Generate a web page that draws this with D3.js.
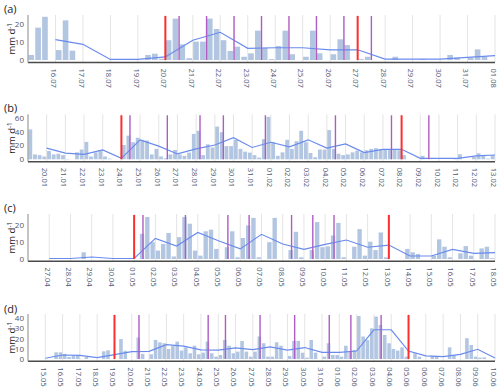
<!DOCTYPE html>
<html><head><meta charset="utf-8">
<script src="https://cdn.jsdelivr.net/npm/d3@7"></script>
<style>body{margin:0;background:#fff}svg{display:block}text{font-family:"Open Sans",sans-serif}</style>
</head><body><svg id="c" width="500" height="390"></svg>
<script>
// ---------------- data ----------------
const panelLabels = ["(a)", "(b)", "(c)", "(d)"];
const rainStart = ["2021-07-15", "2021-01-19", "2021-04-26", "2021-05-14"];
const axisEnd   = ["2021-08-01", "2021-02-13", "2021-05-18", "2021-06-10"];
const lineStart = ["2021-07-16", "2021-01-20", "2021-04-27", "2021-05-15"];
const yTicksA = [0, 10, 20];
const yTicksB = [0, 20, 40, 60];
const yTicksC = [0, 10, 20];
const yTicksD = [0, 10, 20, 30, 40];

// 6-hourly precipitation (mm d-1), four values per day
const rainA = [2.8,18,24,0, 5.5,22,5.2,0, 0,0,0,0, 0,0,0,0, 0,2.8,3.5,0.7,
  11,23,8.7,1, 10.2,10.2,23,17.2, 11,5,7.4,1.8, 3.7,16.3,6.8,0.5, 7.8,16.3,3.2,0,
  1.8,16.3,3.7,0, 3.2,11.5,8.3,0, 0.5,1.8,0,0, 0,1.8,0,0, 0,0.5,0,0, 0,2.8,1.3,0, 1.3,5.9,1.8,0];
const rainB = [43,7,6,4, 12,7,8,6, 0.5,0,10,14, 25,4,10,13, 4,1,0,0,
  20.6,34,24.5,31, 28,27,7,15, 4,1.5,7,13.4, 7,5,9.6,36.5, 41,6,21.6,17,
  47,39,19,19, 28,15,11,9.6, 6,2.4,29,61, 25,5,10,28, 15,26,41,24.5,
  9,3,14,14, 42,15,8,6, 7,10,12.5,10, 13,15,16,14.5, 14.5,14.5,14,13,
  6,0,0,0, 5,0,0,0, 0,0,0,1.5, 7.2,0,0,3.4, 8.6,5.8,1,5.8];
const rainC = [0,0,0,0, 0,0,0,0, 0,0,4,0, 0,0,0,0, 0,0,0,0,
  0,15,25,10, 5,9,15.5,1.5, 13,25,21,5, 2,16.5,17.5,6, 0,7,16.5,1,
  12.5,20,24.5,1, 0,10,24.5,0, 0,5.3,16.2,1, 0,5.3,22,7, 7.5,14,21.5,1,
  0,7.3,17.8,2, 10.3,5.3,15.8,1, 0,0,0,6, 4,3,0,0, 2,11.7,7.3,1, 0,3.4,7.7,2, 0,6.3,7.3,0.5];
const rainD = [0,0,0,0, 0,0,6.5,6.5, 5,2,3.5,3.5, 0,2,0,0, 0,7.5,8.5,0,
  0,19.5,8,0, 0,21,5,0, 4.6,18.6,16.3,15.4, 9.8,12.7,17,8.2, 11.4,5.6,13,4.6,
  6.2,17,5.6,2.3, 3.9,18.6,13,5.6, 7.2,17.6,7.2,2.3, 7.2,22,15.4,2.3, 2.3,16.3,13,0,
  3,17.7,17.7,6.2, 1.3,18.6,6.2,0, 2.3,15.4,3.9,3.9, 2.3,13,7.2,8.8, 42,22,18.6,30,
  41.5,33.3,23.5,15.4, 9.8,8.2,11.4,2.3, 0,5.6,2.3,0, 0,3,3,0, 0,11.4,3.9,0,
  0,20.3,13.7,2.3, 1.3,1.6,0,0];

// daily mean (blue line), one value per day from lineStart
const meanA = [11.3,8.7,0.3,0.3,1.7,11,15.4,6.5,6.8,6.8,5.6,5.7,0.5,0.5,0.5,1.5,2.4];
const meanB = [16,9,7.2,13.4,1.4,28,19,7.7,15,20.6,31,17,24.5,18,28,16,22,9.6,14.4,14.4,1.4,1.4,1.4,4.8,6.2];
const meanC = [0.3,0.3,1.2,0.3,0.3,12.3,7.7,15.8,10.7,6,14.7,8.9,5.7,8.7,11.3,7,8.3,1.8,1.8,5.7,3.4,3.8];
const meanD = [0.7,3.9,3.6,1.3,4.3,7.2,7.5,14,12.5,9,8.7,10.8,9.2,11.8,8.7,11.2,6.5,6.5,7.8,28.6,28.6,7.8,3,2.4,4.6,9.5,1];

// event markers
const redA = ["2021-07-20T00:00Z", "2021-07-27T00:00Z"];
const purpleA = ["2021-07-20T12:00Z","2021-07-21T12:00Z","2021-07-22T12:00Z","2021-07-23T12:00Z",
  "2021-07-24T12:00Z","2021-07-25T12:00Z","2021-07-26T12:00Z","2021-07-27T12:00Z"];
const redB = ["2021-01-24T00:00Z", "2021-02-08T00:00Z"];
const purpleB = ["2021-01-24T11:00Z","2021-01-26T11:00Z","2021-01-28T05:00Z","2021-01-29T11:00Z",
  "2021-01-31T17:00Z","2021-02-04T11:00Z","2021-02-07T11:00Z","2021-02-09T11:00Z"];
const redC = ["2021-05-01T00:00Z", "2021-05-13T00:00Z"];
const purpleC = ["2021-05-01T10:00Z","2021-05-03T10:00Z","2021-05-05T10:00Z","2021-05-06T10:00Z",
  "2021-05-08T10:00Z","2021-05-09T10:00Z","2021-05-10T10:00Z"];
const redD = ["2021-05-19T00:00Z", "2021-06-05T00:00Z"];
const purpleD = ["2021-05-20T10:00Z","2021-05-24T10:00Z","2021-05-25T10:00Z","2021-05-27T10:00Z",
  "2021-05-29T10:00Z","2021-05-31T10:00Z","2021-06-01T16:00Z","2021-06-03T10:00Z"];

// ---------------- drawing ----------------
const panels = [
  {rain: rainA, mean: meanA, red: redA, purple: purpleA, yt: yTicksA, ymax: 25,   top: 15,    zero: 60,    axis: 62.5,  ly: 13},
  {rain: rainB, mean: meanB, red: redB, purple: purpleB, yt: yTicksB, ymax: 64.7, top: 114.3, zero: 159.3, axis: 161.7, ly: 112},
  {rain: rainC, mean: meanC, red: redC, purple: purpleC, yt: yTicksC, ymax: 26.8, top: 214,   zero: 259,   axis: 261.3, ly: 212},
  {rain: rainD, mean: meanD, red: redD, purple: purpleD, yt: yTicksD, ymax: 44,   top: 314,   zero: 359,   axis: 361.3, ly: 313}
];
const X0 = 28, X1 = 495;
const svg = d3.select("#c");
const fmt = d3.utcFormat("%d.%m");
const day = s => new Date(s + "T00:00Z");

panels.forEach((p, i) => {
  const g = svg.append("g");
  const start = day(rainStart[i]), end = day(axisEnd[i]);
  const xs = d3.scaleUtc().domain([start, end]).range([X0, X1]);
  const ys = d3.scaleLinear().domain([0, p.ymax]).range([p.zero, p.top]);
  const ticks = d3.utcDay.range(d3.utcDay.offset(start, 1), d3.utcDay.offset(end, 1));

  // gridlines
  g.append("g").selectAll("line").data(ticks).join("line")
    .attr("x1", d => xs(d)).attr("x2", d => xs(d))
    .attr("y1", p.top).attr("y2", p.axis)
    .attr("stroke", "#e4e4e4").attr("stroke-width", 1);

  // bars
  const slot = xs(d3.utcHour.offset(start, 6)) - xs(start);
  const bars = p.rain.map((v, k) => ({t: d3.utcHour.offset(start, 6 * k), v}));
  g.append("g").selectAll("rect").data(bars).join("rect")
    .attr("x", d => xs(d.t) + 0.4)
    .attr("width", slot * 0.82)
    .attr("y", d => ys(d.v))
    .attr("height", d => Math.max(0, ys(0) - ys(d.v)))
    .attr("fill", "#b2c5e1");

  // daily mean line
  const ls = day(lineStart[i]);
  const pts = p.mean.map((v, k) => ({t: d3.utcDay.offset(ls, k), v}));
  g.append("path").datum(pts)
    .attr("d", d3.line().x(d => xs(d.t)).y(d => ys(d.v)))
    .attr("fill", "none").attr("stroke", "#6a8bee").attr("stroke-width", 1.2);

  // event lines
  g.append("g").selectAll("line").data(p.purple.map(s => new Date(s))).join("line")
    .attr("x1", d => xs(d)).attr("x2", d => xs(d))
    .attr("y1", p.top + 1).attr("y2", p.zero)
    .attr("stroke", "#ae5cc2").attr("stroke-width", 1.4);
  g.append("g").selectAll("line").data(p.red.map(s => new Date(s))).join("line")
    .attr("x1", d => xs(d)).attr("x2", d => xs(d))
    .attr("y1", p.top + 1).attr("y2", p.zero)
    .attr("stroke", "#ff2e2e").attr("stroke-width", 2);

  // x axis
  const xa = g.append("g").attr("transform", `translate(0,${p.axis})`)
    .call(d3.axisBottom(xs).tickValues(ticks).tickFormat(fmt).tickSize(0));
  xa.select(".domain").remove();
  xa.selectAll("text")
    .attr("transform", "rotate(90)")
    .attr("text-anchor", "start")
    .attr("x", 6).attr("y", 0).attr("dy", "0.62em")
    .attr("fill", "#4e5874").attr("font-size", "7.6px")
    .attr("font-family", "'Open Sans', sans-serif");
  g.append("line").attr("x1", X0).attr("x2", X1).attr("y1", p.axis).attr("y2", p.axis)
    .attr("stroke", "#4a4a4a").attr("stroke-width", 1.4);

  // y axis
  const ya = g.append("g").attr("transform", `translate(${X0},0)`)
    .call(d3.axisLeft(ys).tickValues(p.yt).tickSize(0).tickPadding(4));
  ya.select(".domain").remove();
  ya.selectAll("text").attr("fill", "#4e5570").attr("font-size", "8px")
    .attr("font-family", "'Open Sans', sans-serif");
  g.append("line").attr("x1", X0).attr("x2", X0).attr("y1", p.top).attr("y2", p.axis)
    .attr("stroke", "#8a8a8a").attr("stroke-width", 1);

  // y label
  const cy = (p.top + p.axis) / 2;
  const yl = g.append("text")
    .attr("transform", `translate(14.5,${cy}) rotate(-90)`)
    .attr("text-anchor", "middle").attr("font-size", "9.5px").attr("fill", "#222");
  yl.append("tspan").text("mm d");
  yl.append("tspan").attr("dy", "-0.45em").attr("font-size", "6.5px").text("-1");

  // panel label
  g.append("text").attr("x", 4).attr("y", p.ly).attr("font-size", "11px").attr("fill", "#222")
    .text(panelLabels[i]);
});
</script>
</body></html>
